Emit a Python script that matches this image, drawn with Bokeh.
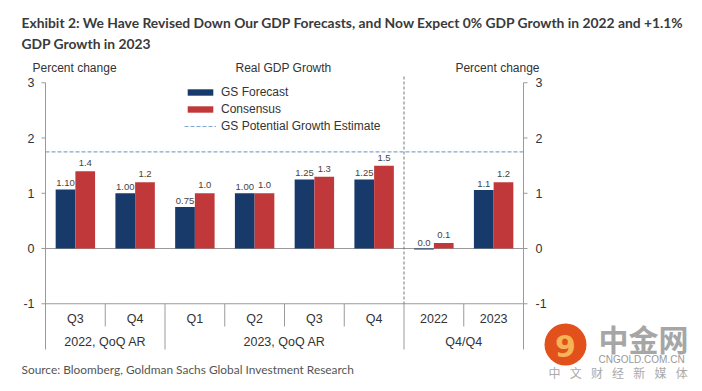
from bokeh.plotting import figure
from bokeh.models import Range1d, Legend, LegendItem, ColumnDataSource
from bokeh.embed import file_html
from bokeh.resources import INLINE
from bokeh.core.properties import value

# ---------------- data ----------------
quarters = ["Q3", "Q4", "Q1", "Q2", "Q3", "Q4", "2022", "2023"]
groups = ["2022, QoQ AR", "2023, QoQ AR", "Q4/Q4"]
group_spans = [(0, 2), (2, 6), (6, 8)]
gs_forecast = [1.07, 1.00, 0.75, 1.00, 1.25, 1.25, -0.02, 1.06]
gs_labels = ["1.10", "1.00", "0.75", "1.00", "1.25", "1.25", "0.0", "1.1"]
consensus = [1.40, 1.20, 1.00, 1.00, 1.30, 1.50, 0.10, 1.20]
cons_labels = ["1.4", "1.2", "1.0", "1.0", "1.3", "1.5", "0.1", "1.2"]
potential_growth = 1.75
y_ticks = [-1, 0, 1, 2, 3]
y_tick_labels = ["-1", "0", "1", "2", "3"]

NAVY = "#173a6a"
RED = "#c0383a"
FONT = "Liberation Sans"
TFONT = "Lato"
TXT = "#333333"
GRAY = "#9a9a9a"

W, H = 698, 388

# ---- layout helpers (page pixel -> data units); frame fills the canvas ----
X0, CW = 45.0, 59.75     # page x of category boundary 0, px per category
Y0, UH = 248.0, 55.25    # page y of value 0, px per unit


def px2x(px):
    return (px - X0) / CW


def py2y(py):
    return (Y0 - py) / UH


n = len(quarters)
bw = 0.33
xs = list(range(n))
gs_x = [i + 0.5 - bw / 2 for i in xs]
cons_x = [i + 0.5 + bw / 2 for i in xs]
y_min, y_max = min(y_ticks), max(y_ticks)
cat_bottom = py2y(349)
inner_bottom = py2y(326)

p = figure(width=W, height=H, output_backend="svg", toolbar_location=None, title=None,
           x_range=Range1d(px2x(0), px2x(W)), y_range=Range1d(py2y(H), py2y(0)),
           min_border=0, min_border_left=0, min_border_right=0, min_border_top=0,
           min_border_bottom=0)
p.outline_line_color = None
p.grid.visible = False
p.axis.visible = False
p.background_fill_color = "white"
p.border_fill_color = "white"

# axes lines (left at boundary 0, right at boundary n), extending through category area
p.segment(x0=[0, n], y0=[y_max, y_max], x1=[0, n], y1=[cat_bottom, cat_bottom],
          line_color=GRAY, line_width=1)
# ticks
tick_len = 4 / CW
p.segment(x0=[-tick_len] * len(y_ticks), y0=y_ticks, x1=[0] * len(y_ticks), y1=y_ticks,
          line_color=GRAY, line_width=1)
p.segment(x0=[n] * len(y_ticks), y0=y_ticks, x1=[n + tick_len] * len(y_ticks), y1=y_ticks,
          line_color=GRAY, line_width=1)
p.text(x=[-11 / CW] * len(y_ticks), y=y_ticks, text=y_tick_labels, text_align="right",
       text_baseline="middle", text_font=value(FONT), text_font_size="12.5px", text_color=TXT)
p.text(x=[n + 12 / CW] * len(y_ticks), y=y_ticks, text=y_tick_labels, text_align="left",
       text_baseline="middle", text_font=value(FONT), text_font_size="12.5px", text_color=TXT)

# horizontal reference lines (0 and -1)
p.segment(x0=[0, 0], y0=[0, y_min], x1=[n, n], y1=[0, y_min], line_color=GRAY, line_width=1)

# category separators
inner = [1, 3, 4, 5, 7]
outer = [2, 6]
p.segment(x0=inner, y0=[y_min] * len(inner), x1=inner, y1=[inner_bottom] * len(inner),
          line_color=GRAY, line_width=1)
p.segment(x0=outer, y0=[y_min] * len(outer), x1=outer, y1=[cat_bottom] * len(outer),
          line_color=GRAY, line_width=1)

# vertical dashed divider between quarterly and Q4/Q4 panels
p.segment(x0=[6], y0=[py2y(76)], x1=[6], y1=[y_min], line_color="#777777", line_dash="3 2",
          line_width=1)

# potential growth line
pg = p.line(x=[0, n], y=[potential_growth, potential_growth], line_color="#7fa8d0",
            line_dash="4 2", line_width=1.2)

# bars
src = ColumnDataSource(dict(gx=gs_x, cx=cons_x, gs=gs_forecast, cons=consensus,
                            gl=gs_labels, cl=cons_labels,
                            gly=[max(v, 0) for v in gs_forecast],
                            cly=[max(v, 0) for v in consensus]))
r1 = p.vbar(x="gx", top="gs", bottom=0, width=bw, source=src, fill_color=NAVY, line_color=None)
r2 = p.vbar(x="cx", top="cons", bottom=0, width=bw, source=src, fill_color=RED, line_color=None)

p.text(x="gx", y="gly", text="gl", source=src, text_align="center", text_baseline="bottom",
       y_offset=-3, text_font=value(FONT), text_font_size="9.5px", text_color="#444444")
p.text(x="cx", y="cly", text="cl", source=src, text_align="center", text_baseline="bottom",
       y_offset=-5, text_font=value(FONT), text_font_size="9.5px", text_color="#444444")

# category labels
p.text(x=[i + 0.5 for i in xs], y=[py2y(318)] * n, text=quarters, text_align="center",
       text_baseline="middle", text_font=value(FONT), text_font_size="12.5px", text_color=TXT)
p.text(x=[(a + b) / 2 for a, b in group_spans], y=[py2y(341)] * len(groups), text=groups,
       text_align="center", text_baseline="middle", text_font=value(FONT),
       text_font_size="12.5px", text_color=TXT)

# legend (location in px from canvas bottom-left)
legend = Legend(items=[LegendItem(label="GS Forecast", renderers=[r1]),
                       LegendItem(label="Consensus", renderers=[r2]),
                       LegendItem(label="GS Potential Growth Estimate", renderers=[pg])],
                location=(184, H - 133), orientation="vertical",
                glyph_width=32, glyph_height=8, label_height=15, spacing=2,
                padding=0, margin=0, label_standoff=5,
                border_line_color=None, background_fill_alpha=0,
                label_text_font=FONT, label_text_font_size="12px", label_text_color=TXT)
p.add_layout(legend)


def txt(px, py, text, size, color=TXT, align="left", font=FONT, style="normal"):
    p.text(x=[px2x(px)], y=[py2y(py)], text=[text], text_align=align, text_baseline="middle",
           text_font=value(font), text_font_size=size, text_color=color,
           text_font_style=style)


# headers above plot
txt(32, 67, "Percent change", "12px")
txt(283, 67, "Real GDP Growth", "12px", align="center")
txt(539, 67, "Percent change", "12px", align="right")

# title and source
txt(21, 22, "Exhibit 2: We Have Revised Down Our GDP Forecasts, and Now Expect 0% GDP Growth in 2022 and +1.1%",
    "13.85px", color="#3a3a3a", font=TFONT, style="bold")
txt(21, 43, "GDP Growth in 2023", "13.85px", color="#3a3a3a", font=TFONT, style="bold")
txt(21, 369, "Source: Bloomberg, Goldman Sachs Global Investment Research", "11.9px",
    color="#555555", font=TFONT)

# watermark (CNGOLD)
p.scatter(x=[px2x(565)], y=[py2y(344)], size=42, marker="circle", fill_color="#e2501c",
          line_color=None)
txt(565, 345, "9", "30px", color="#f5b455", align="center", font="DejaVu Sans", style="bold")
txt(598, 337, "中金网", "30px", color="#a6a6a6", font="Noto Sans CJK SC", style="bold")
txt(598, 359, "CNGOLD.COM.CN", "10px", color="#999999", font=FONT)
wm_chars = list("中文财经新媒体")
p.text(x=[px2x(554 + 21.2 * k) for k in range(len(wm_chars))], y=[py2y(372)] * len(wm_chars),
       text=wm_chars, text_align="center", text_baseline="middle",
       text_font=value("Noto Sans CJK SC"), text_font_size="12px", text_color="#aaaaaa")

open("out.html", "w").write(file_html(p, INLINE))
